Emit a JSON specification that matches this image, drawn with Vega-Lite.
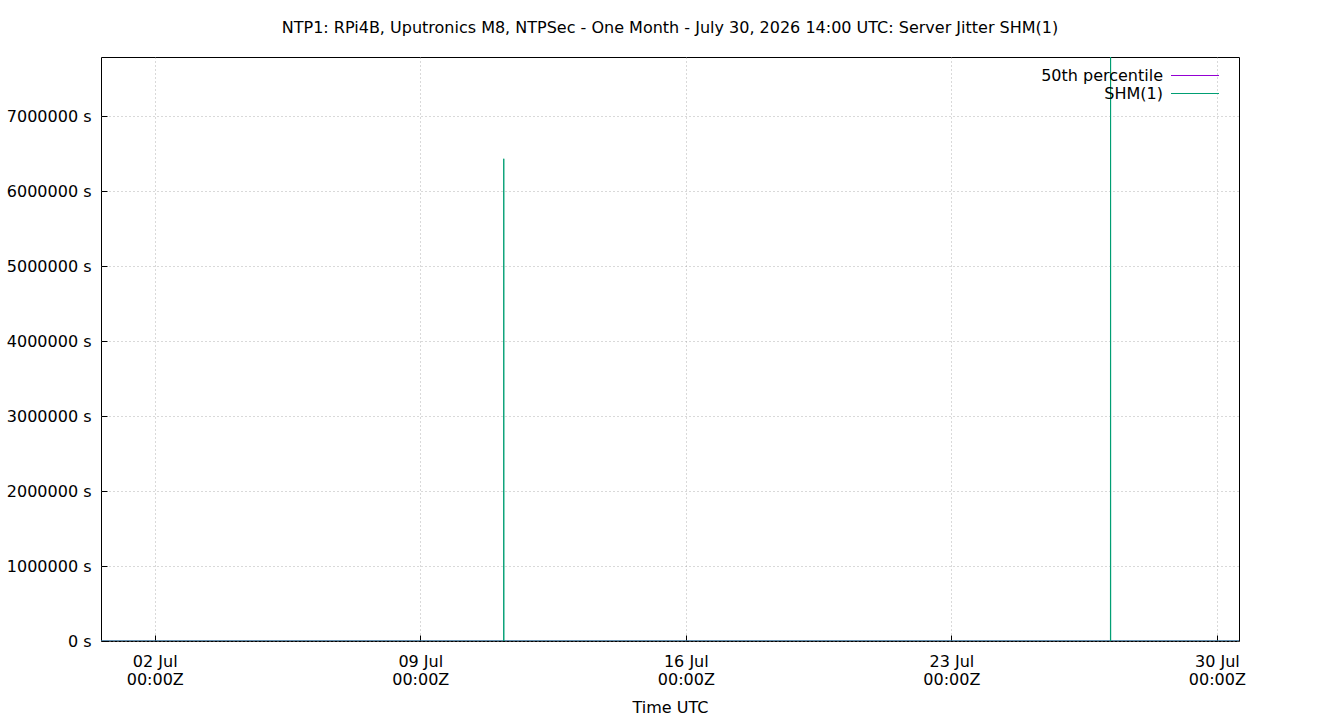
{
  "$schema": "https://vega.github.io/schema/vega-lite/v6.json",
  "width": 1138,
  "height": 584,
  "autosize": {"type": "none"},
  "padding": {"left": 101, "top": 57, "right": 101, "bottom": 79},
  "background": "white",
  "config": {
    "font": "DejaVu Sans",
    "view": {"stroke": "black", "strokeWidth": 1},
    "axis": {
      "domain": false,
      "tickColor": "black",
      "tickSize": -6,
      "labelFontSize": 16,
      "labelColor": "black",
      "titleFontSize": 16,
      "titleFontWeight": "normal",
      "titleColor": "black",
      "grid": true,
      "gridColor": "#a0a0a0",
      "gridDash": [1, 3],
      "gridOpacity": 0.8
    }
  },
  "title": {
    "text": "NTP1: RPi4B, Uputronics M8, NTPSec - One Month - July 30, 2026 14:00 UTC: Server Jitter SHM(1)",
    "fontSize": 16,
    "fontWeight": "normal",
    "color": "black",
    "offset": 21
  },
  "data": {
    "values": [
      {"t": "2026-06-30T14:00:00Z", "v": 0.0000018, "s": "50th percentile"},
      {"t": "2026-07-30T14:00:00Z", "v": 0.0000018, "s": "50th percentile"},
      {"t": "2026-06-30T14:00:00Z", "v": 0.0000021, "s": "SHM(1)"},
      {"t": "2026-07-01T14:00:00Z", "v": 0.0000017, "s": "SHM(1)"},
      {"t": "2026-07-02T14:00:00Z", "v": 0.0000019, "s": "SHM(1)"},
      {"t": "2026-07-03T14:00:00Z", "v": 0.0000022, "s": "SHM(1)"},
      {"t": "2026-07-04T14:00:00Z", "v": 0.0000016, "s": "SHM(1)"},
      {"t": "2026-07-05T14:00:00Z", "v": 0.0000018, "s": "SHM(1)"},
      {"t": "2026-07-06T14:00:00Z", "v": 0.0000020, "s": "SHM(1)"},
      {"t": "2026-07-07T14:00:00Z", "v": 0.0000017, "s": "SHM(1)"},
      {"t": "2026-07-08T14:00:00Z", "v": 0.0000019, "s": "SHM(1)"},
      {"t": "2026-07-09T14:00:00Z", "v": 0.0000021, "s": "SHM(1)"},
      {"t": "2026-07-10T14:00:00Z", "v": 0.0000018, "s": "SHM(1)"},
      {"t": "2026-07-11T04:45:00Z", "v": 0.0000020, "s": "SHM(1)"},
      {"t": "2026-07-11T04:50:00Z", "v": 6430000, "s": "SHM(1)"},
      {"t": "2026-07-11T04:55:00Z", "v": 0.0000019, "s": "SHM(1)"},
      {"t": "2026-07-11T14:00:00Z", "v": 0.0000017, "s": "SHM(1)"},
      {"t": "2026-07-12T14:00:00Z", "v": 0.0000018, "s": "SHM(1)"},
      {"t": "2026-07-13T14:00:00Z", "v": 0.0000020, "s": "SHM(1)"},
      {"t": "2026-07-14T14:00:00Z", "v": 0.0000016, "s": "SHM(1)"},
      {"t": "2026-07-15T14:00:00Z", "v": 0.0000019, "s": "SHM(1)"},
      {"t": "2026-07-16T14:00:00Z", "v": 0.0000021, "s": "SHM(1)"},
      {"t": "2026-07-17T14:00:00Z", "v": 0.0000018, "s": "SHM(1)"},
      {"t": "2026-07-18T14:00:00Z", "v": 0.0000017, "s": "SHM(1)"},
      {"t": "2026-07-19T14:00:00Z", "v": 0.0000020, "s": "SHM(1)"},
      {"t": "2026-07-20T14:00:00Z", "v": 0.0000019, "s": "SHM(1)"},
      {"t": "2026-07-21T14:00:00Z", "v": 0.0000018, "s": "SHM(1)"},
      {"t": "2026-07-22T14:00:00Z", "v": 0.0000022, "s": "SHM(1)"},
      {"t": "2026-07-23T14:00:00Z", "v": 0.0000017, "s": "SHM(1)"},
      {"t": "2026-07-24T14:00:00Z", "v": 0.0000019, "s": "SHM(1)"},
      {"t": "2026-07-25T14:00:00Z", "v": 0.0000018, "s": "SHM(1)"},
      {"t": "2026-07-26T14:00:00Z", "v": 0.0000020, "s": "SHM(1)"},
      {"t": "2026-07-27T04:40:00Z", "v": 0.0000019, "s": "SHM(1)"},
      {"t": "2026-07-27T04:45:00Z", "v": 15000000, "s": "SHM(1)"},
      {"t": "2026-07-27T04:50:00Z", "v": 0.0000018, "s": "SHM(1)"},
      {"t": "2026-07-27T14:00:00Z", "v": 0.0000017, "s": "SHM(1)"},
      {"t": "2026-07-28T14:00:00Z", "v": 0.0000021, "s": "SHM(1)"},
      {"t": "2026-07-29T14:00:00Z", "v": 0.0000018, "s": "SHM(1)"},
      {"t": "2026-07-30T14:00:00Z", "v": 0.0000019, "s": "SHM(1)"}
    ]
  },
  "mark": {"type": "line", "strokeWidth": 1, "clip": true},
  "encoding": {
    "x": {
      "field": "t",
      "type": "temporal",
      "scale": {
        "type": "utc",
        "domain": [
          {"year": 2026, "month": 6, "date": 30, "hours": 14, "utc": true},
          {"year": 2026, "month": 7, "date": 30, "hours": 14, "utc": true}
        ]
      },
      "axis": {
        "title": "Time UTC",
        "values": [
          {"year": 2026, "month": 7, "date": 2, "utc": true},
          {"year": 2026, "month": 7, "date": 9, "utc": true},
          {"year": 2026, "month": 7, "date": 16, "utc": true},
          {"year": 2026, "month": 7, "date": 23, "utc": true},
          {"year": 2026, "month": 7, "date": 30, "utc": true}
        ],
        "labelExpr": "[utcFormat(datum.value, '%d %b'), '00:00Z']",
        "labelLineHeight": 18,
        "labelPadding": 18,
        "labelBaseline": "top",
        "titlePadding": 12
      }
    },
    "y": {
      "field": "v",
      "type": "quantitative",
      "scale": {"domain": [0, 7786667], "nice": false, "zero": true},
      "axis": {
        "title": null,
        "values": [0, 1000000, 2000000, 3000000, 4000000, 5000000, 6000000, 7000000],
        "labelExpr": "format(datum.value, 'd') + ' s'",
        "labelPadding": 16
      }
    },
    "color": {
      "field": "s",
      "type": "nominal",
      "scale": {"domain": ["50th percentile", "SHM(1)"], "range": ["#9400d3", "#009e73"]},
      "legend": {
        "title": null,
        "orient": "none",
        "legendX": 1086,
        "legendY": 10.5,
        "padding": 0,
        "symbolType": "M-4,0H4",
        "symbolSize": 144,
        "symbolStrokeWidth": 1,
        "symbolOpacity": 1,
        "symbolFillColor": "transparent",
        "labelAlign": "right",
        "labelOffset": -40,
        "labelFontSize": 16,
        "labelColor": "black",
        "rowPadding": 2
      }
    }
  }
}
